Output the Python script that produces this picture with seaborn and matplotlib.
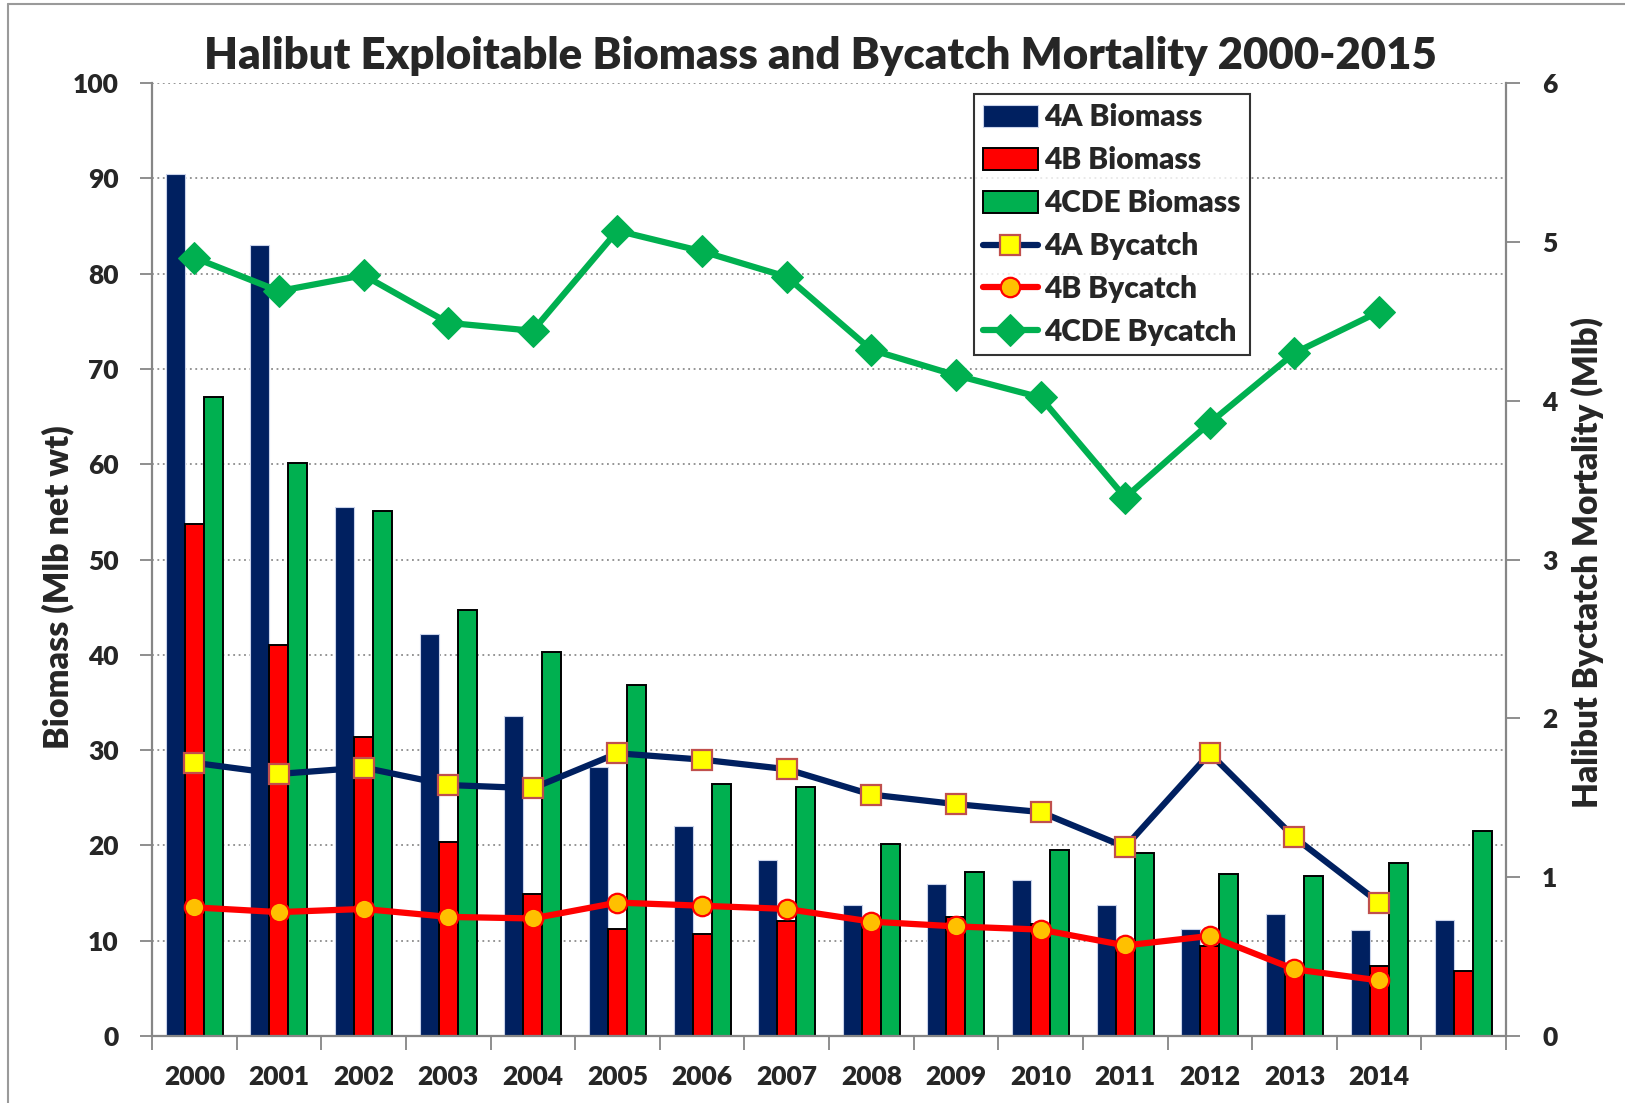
import numpy as np
import pandas as pd
import matplotlib
matplotlib.use('Agg')
import matplotlib.pyplot as plt
from matplotlib.lines import Line2D
import seaborn as sns

# data
years = [str(y) for y in range(2000, 2016)]
year_labels = [str(y) for y in range(2000, 2015)] + ['']
biomass_4a = [90.5, 83.0, 55.5, 42.2, 33.6, 28.2, 22.0, 18.5, 13.7, 15.9, 16.4, 13.7, 11.2, 12.8, 11.1, 12.2]
biomass_4b = [53.7, 41.0, 31.4, 20.4, 14.9, 11.2, 10.7, 12.1, 12.0, 12.5, 11.8, 9.2, 9.4, 6.5, 7.3, 6.8]
biomass_4cde = [67.0, 60.1, 55.1, 44.7, 40.3, 36.8, 26.4, 26.1, 20.1, 17.2, 19.5, 19.2, 17.0, 16.8, 18.2, 21.5]
bycatch_years = list(range(15))  # 2000-2014 as category positions
bycatch_4a = [1.72, 1.65, 1.69, 1.58, 1.56, 1.78, 1.74, 1.68, 1.52, 1.46, 1.41, 1.19, 1.78, 1.25, 0.84]
bycatch_4b = [0.81, 0.78, 0.80, 0.75, 0.74, 0.84, 0.82, 0.80, 0.72, 0.69, 0.67, 0.57, 0.63, 0.42, 0.35]
bycatch_4cde = [4.90, 4.69, 4.79, 4.49, 4.44, 5.07, 4.94, 4.78, 4.32, 4.16, 4.02, 3.39, 3.86, 4.30, 4.56]

navy = '#002060'
red = '#FF0000'
green = '#00B050'
grey = '#868686'
W = 'heavy'

sns.set_theme(style='ticks')
plt.rcParams['font.family'] = ['Lato', 'DejaVu Sans']
plt.rcParams['font.weight'] = W

df = pd.DataFrame({
    'year': years * 3,
    'area': ['4A Biomass'] * 16 + ['4B Biomass'] * 16 + ['4CDE Biomass'] * 16,
    'biomass': biomass_4a + biomass_4b + biomass_4cde,
})

fig = plt.figure(figsize=(16.25, 11.03), dpi=100)
ax = fig.add_axes([152 / 1625, 1 - 1036 / 1103, 1354 / 1625, 953 / 1103])

sns.barplot(data=df, x='year', y='biomass', hue='area',
            palette=[navy, red, green], saturation=1, width=0.675,
            errorbar=None, legend=False, ax=ax)

# bar edges: navy with a faint light edge, others black
for cont, ec, lw in zip(ax.containers, ['#C9D3EA', 'black', 'black'], [0.8, 1.4, 1.4]):
    for bar in cont:
        bar.set_edgecolor(ec)
        bar.set_linewidth(lw)

ax.set_ylim(0, 100)
ax.set_yticks(range(0, 101, 10))
ax.set_xlim(-0.5, 15.5)
ax.set_xticks(range(16))
ax.set_xticklabels(year_labels)
ax.set_xticks(np.arange(-0.5, 16, 1), minor=True)
ax.tick_params(axis='x', which='major', length=0, pad=21, labelsize=19)
ax.tick_params(axis='x', which='minor', length=10, width=1.3, color=grey)
ax.tick_params(axis='y', length=9, width=1.3, color=grey, pad=15, labelsize=19)
ax.yaxis.grid(True, linestyle=(0, (1, 2)), color='#8C8C8C', linewidth=1.3)
ax.set_axisbelow(True)
ax.set_xlabel('')
ax.set_ylabel('')
for lbl in ax.get_xticklabels() + ax.get_yticklabels():
    lbl.set_fontweight(W)
for side in ['top', 'right']:
    ax.spines[side].set_visible(False)
for side in ['left', 'bottom']:
    ax.spines[side].set_color(grey)
    ax.spines[side].set_linewidth(1.6)

# bycatch lines on the right axis
ax2 = ax.twinx()
sns.lineplot(x=bycatch_years, y=bycatch_4cde, ax=ax2, color=green, linewidth=4.5,
             marker='D', markersize=16, markerfacecolor=green, markeredgecolor=green)
sns.lineplot(x=bycatch_years, y=bycatch_4a, ax=ax2, color=navy, linewidth=4.5,
             marker='s', markersize=14, markerfacecolor='#FFFF00', markeredgecolor='#C0504D',
             markeredgewidth=1.6)
sns.lineplot(x=bycatch_years, y=bycatch_4b, ax=ax2, color=red, linewidth=4.5,
             marker='o', markersize=14, markerfacecolor='#FFC000', markeredgecolor=red,
             markeredgewidth=1.6)
ax2.set_ylim(0, 6)
ax2.set_yticks(range(7))
ax2.set_xlim(-0.5, 15.5)
ax2.tick_params(axis='y', length=10, width=1.3, color=grey, pad=16, labelsize=19)
for lbl in ax2.get_yticklabels():
    lbl.set_fontweight(W)
for side in ['top', 'left', 'bottom']:
    ax2.spines[side].set_visible(False)
ax2.spines['right'].set_color(grey)
ax2.spines['right'].set_linewidth(1.6)
ax2.set_ylabel('')

lines = ax2.get_lines()
handles = list(ax.containers) + [lines[1], lines[2], lines[0]]
labels = ['4A Biomass', '4B Biomass', '4CDE Biomass', '4A Bycatch', '4B Bycatch', '4CDE Bycatch']
leg = ax2.legend(handles, labels, loc='upper left', bbox_to_anchor=(0.607, 0.988),
                 borderaxespad=0, prop={'size': 21.5, 'weight': W}, frameon=True,
                 fancybox=False, handlelength=1.85, handleheight=0.75, handletextpad=0.2,
                 labelspacing=0.5, borderpad=0.3)
leg.get_frame().set_edgecolor('black')
leg.get_frame().set_linewidth(1.5)

fig.text(0.505, 1 - 56 / 1103, 'Halibut Exploitable Biomass and Bycatch Mortality 2000-2015',
         ha='center', va='center', fontsize=31.5, fontweight=W)
fig.text(58 / 1625, 1 - 587 / 1103, 'Biomass (Mlb net wt)', rotation=90,
         ha='center', va='center', fontsize=24.5, fontweight=W)
fig.text(1587 / 1625, 1 - 563 / 1103, 'Halibut Byctatch Mortality (Mlb)', rotation=90,
         ha='center', va='center', fontsize=24, fontweight=W)

# thin grey frame line at the left and top edge of the picture
fig.add_artist(Line2D([8 / 1625, 8 / 1625], [0, 1 - 4 / 1103], transform=fig.transFigure,
                      color='#9A9A9A', linewidth=1.5))
fig.add_artist(Line2D([8 / 1625, 1], [1 - 4 / 1103, 1 - 4 / 1103], transform=fig.transFigure,
                      color='#9A9A9A', linewidth=1.5))

fig.savefig('out.png', dpi=100)
